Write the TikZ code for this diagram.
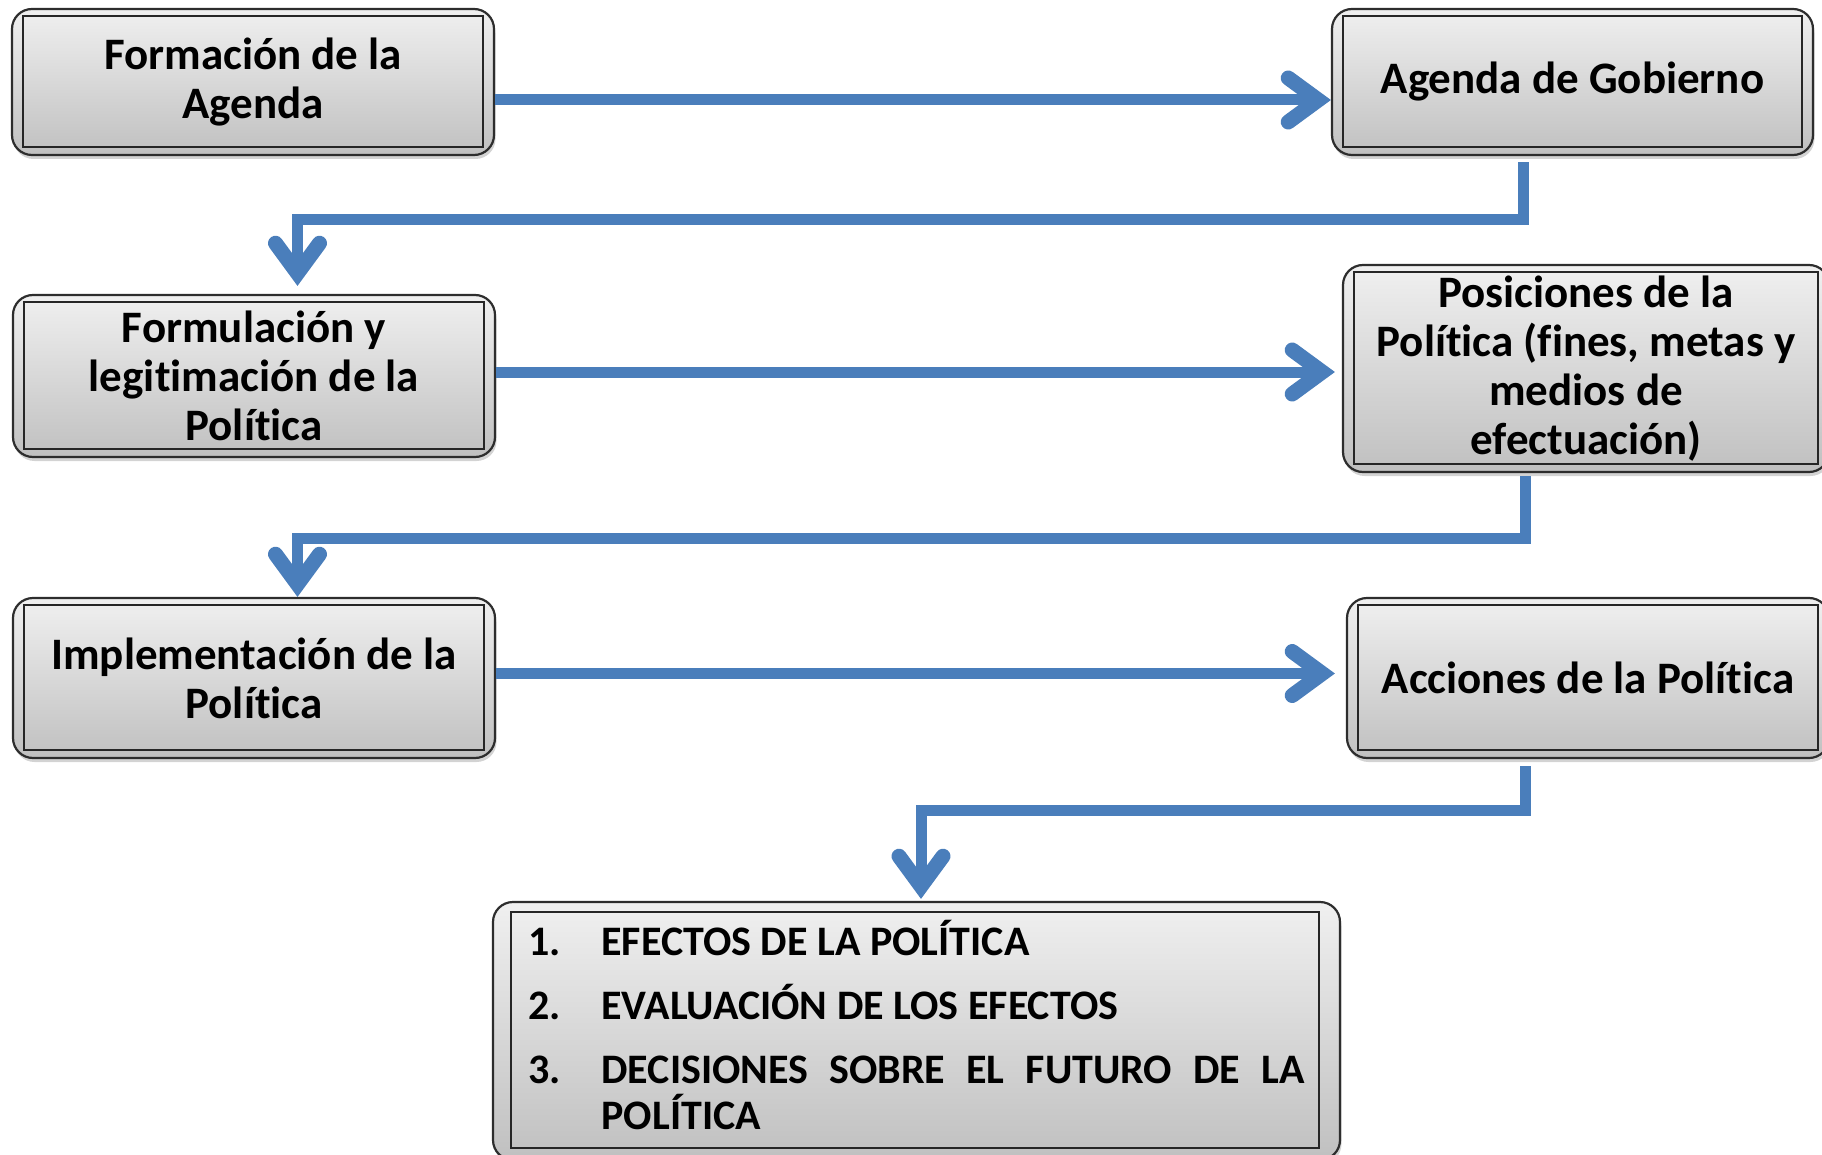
\documentclass[tikz,border=0pt]{standalone}
\usepackage{fontspec}
\setmainfont{Carlito}[RawFeature={-liga,-clig,-dlig,-calt}]
\usetikzlibrary{arrows.meta,shadows}
\definecolor{flowblue}{RGB}{74,126,187}
\definecolor{boxtop}{RGB}{240,240,240}
\definecolor{boxbot}{RGB}{192,192,192}
\definecolor{boxline}{RGB}{45,45,45}
\begin{document}
\begin{tikzpicture}[x=1pt,y=-1pt,
  box/.style={rounded corners=20pt, draw=boxline, line width=2.2pt,
    top color=boxtop, bottom color=boxbot, align=center,
    font=\fontsize{45}{49}\selectfont\bfseries, inner sep=0pt,
    drop shadow={shadow xshift=1.5pt, shadow yshift=-4pt, opacity=0.35}},
  innerframe/.style={draw=black!85, line width=2pt},
  flow/.style={draw=flowblue, line width=11pt, line join=miter,
    -{Straight Barb[length=30pt, width=44pt, line width=4pt 1, line cap=round, line join=miter]}}
]
\useasboundingbox (0,0) rectangle (1822,1155);

\node[box, minimum width=482pt, minimum height=146pt] (b1) at (253,82) {Formación de la\\Agenda};
\node[box, minimum width=481pt, minimum height=146pt] (b2) at (1572.5,82) {Agenda de Gobierno};
\node[box, minimum width=482pt, minimum height=162pt] (b3) at (254,376) {Formulación y\\legitimación de la\\Política};
\node[box, minimum width=486pt, minimum height=207pt] (b4) at (1586,368.5) {Posiciones de la\\Política (fines, metas y\\medios de\\efectuación)};
\node[box, minimum width=482pt, minimum height=160pt] (b5) at (254,678) {Implementación de la\\Política};
\node[box, minimum width=482pt, minimum height=160pt] (b6) at (1588,678) {Acciones de la Política};
\node[box, minimum width=847pt, minimum height=258pt, text width=776pt, inner xsep=35.5pt,
  align=justify, font=\fontsize{42}{46}\selectfont\bfseries] (b7) at (916.5,1031)
  {\setlength{\parindent}{0pt}\setlength{\parskip}{18pt}\hyphenpenalty=10000\exhyphenpenalty=10000
   \makebox[73pt][l]{1.}EFECTOS DE LA POLÍTICA\par
   \makebox[73pt][l]{2.}EVALUACIÓN DE LOS EFECTOS\par
   \hangindent=73pt\hangafter=1 \makebox[73pt][l]{3.}DECISIONES SOBRE EL FUTURO DE LA POLÍTICA\par
   \kern12pt};

\foreach \n in {b1,b2,b3,b4,b5,b6}{
  \draw[innerframe] ([shift={(12pt,-8pt)}]\n.north west) rectangle ([shift={(-12pt,9pt)}]\n.south east);
}
\draw[innerframe] ([shift={(19pt,-11pt)}]b7.north west) rectangle ([shift={(-22pt,13pt)}]b7.south east);

% horizontal arrows
\draw[flow] ([yshift=-18pt]b1.east) -- ([yshift=-18pt]b2.west);
\draw[flow] ([yshift=4pt]b3.east) -- ([xshift=-7pt,yshift=-3.5pt]b4.west);
\draw[flow] ([yshift=4.5pt]b5.east) -- ([xshift=-11pt,yshift=4.5pt]b6.west);

% elbow connectors
\coordinate (h1) at (0,220);
\coordinate (h2) at (0,538);
\coordinate (h3) at (0,810);
\coordinate (c1s) at ([xshift=-49pt,yshift=-6pt]b2.south);
\coordinate (c1e) at ([xshift=43.5pt,yshift=8pt]b3.north);
\coordinate (c2s) at ([xshift=-61pt,yshift=-3pt]b4.south);
\coordinate (c2e) at ([xshift=43.5pt]b5.north);
\coordinate (c3s) at ([xshift=-63pt,yshift=-7pt]b6.south);
\coordinate (c3e) at ([xshift=4.5pt,yshift=2pt]b7.north);
\draw[flow] (c1s) -- (c1s |- h1) -| (c1e);
\draw[flow] (c2s) -- (c2s |- h2) -| (c2e);
\draw[flow] (c3s) -- (c3s |- h3) -| (c3e);
\end{tikzpicture}
\end{document}
